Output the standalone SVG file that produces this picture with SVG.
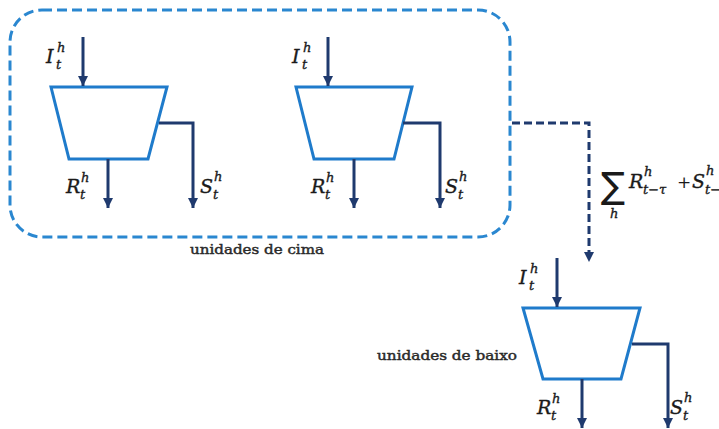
<svg xmlns="http://www.w3.org/2000/svg" width="719" height="429" viewBox="0 0 719 429">
<style>
.trap{fill:#fff;stroke:#1f7bcb;stroke-width:3;stroke-linejoin:miter}
.flow{fill:none;stroke:#1f3a6e;stroke-width:3}
.dash{fill:none;stroke:#1f3a6e;stroke-width:3;stroke-dasharray:8 4}
.group{fill:none;stroke:#2a87d0;stroke-width:3;stroke-dasharray:10 5}
.m{font-family:"DejaVu Serif","Liberation Serif",serif;font-style:italic;fill:#1a1a1a;stroke:#1a1a1a;stroke-width:0.35}
.big{font-size:19px}
.sm{font-size:13px}
.lbl{font-family:"DejaVu Serif","Liberation Serif",serif;font-size:13.5px;fill:#2a2a2a;stroke:#2a2a2a;stroke-width:0.45}
</style>
<defs>
<marker id="ah" markerUnits="userSpaceOnUse" markerWidth="11" markerHeight="11" refX="10" refY="5" orient="auto">
<path d="M0,0 L10,5 L0,10 z" fill="#1f3a6e"/>
</marker>
</defs>
<rect width="719" height="429" fill="#fff"/>
<g id="upper-units">
<rect class="group" x="10" y="10" width="500" height="227" rx="32" ry="32"/>
<text class="lbl" x="190" y="254" textLength="134" lengthAdjust="spacingAndGlyphs">unidades de cima</text>
</g>
<g id="unit1">
<polygon class="trap" points="51,87 167,87 148,159 69,159"/>
<text class="m big" x="46" y="63">I</text><text class="m sm" x="57" y="52">h</text><text class="m sm" x="56" y="69">t</text>
<text class="m big" x="66" y="193">R</text><text class="m sm" x="81" y="182">h</text><text class="m sm" x="80" y="199">t</text>
<text class="m big" x="200" y="193">S</text><text class="m sm" x="214" y="181">h</text><text class="m sm" x="213" y="199">t</text>
</g>
<g id="unit2">
<polygon class="trap" points="296,87 412,87 394,159 314,159"/>
<text class="m big" x="292" y="63">I</text><text class="m sm" x="303" y="52">h</text><text class="m sm" x="302" y="69">t</text>
<text class="m big" x="311" y="193">R</text><text class="m sm" x="326" y="182">h</text><text class="m sm" x="325" y="199">t</text>
<text class="m big" x="445" y="193">S</text><text class="m sm" x="459" y="181">h</text><text class="m sm" x="458" y="199">t</text>
</g>
<g id="unit3">
<polygon class="trap" points="523,308 640,308 621,379 543,379"/>
<text class="m big" x="519" y="284">I</text><text class="m sm" x="530" y="273">h</text><text class="m sm" x="529" y="290">t</text>
<text class="m big" x="537" y="414">R</text><text class="m sm" x="552" y="403">h</text><text class="m sm" x="551" y="420">t</text>
<text class="m big" x="670" y="414">S</text><text class="m sm" x="684" y="402">h</text><text class="m sm" x="683" y="420">t</text>
<text class="lbl" x="377" y="360" textLength="140" lengthAdjust="spacingAndGlyphs">unidades de baixo</text>
</g>
<g id="sum-label">
<text x="601" y="198" font-family="DejaVu Sans,sans-serif" font-size="36" fill="#1a1a1a">∑</text>
<text class="m sm" x="610" y="218">h</text>
<text class="m big" x="629" y="188">R</text><text class="m sm" x="644" y="176">h</text><text class="m sm" x="643" y="194">t−τ</text>
<text x="677" y="188" font-family="DejaVu Serif,serif" font-size="17" fill="#1a1a1a">+</text>
<text class="m big" x="692" y="188">S</text><text class="m sm" x="706" y="175">h</text><text class="m sm" x="705" y="194">t−τ</text>
</g>
<g id="connectors">
<line class="flow" x1="83" y1="37" x2="83" y2="86" marker-end="url(#ah)"/>
<line class="flow" x1="108" y1="159" x2="108" y2="208" marker-end="url(#ah)"/>
<polyline class="flow" points="159,123 193,123 193,208" marker-end="url(#ah)"/>
<line class="flow" x1="328" y1="37" x2="328" y2="86" marker-end="url(#ah)"/>
<line class="flow" x1="354" y1="159" x2="354" y2="208" marker-end="url(#ah)"/>
<polyline class="flow" points="403,123 440,123 440,208" marker-end="url(#ah)"/>
<line class="flow" x1="557" y1="258" x2="557" y2="307" marker-end="url(#ah)"/>
<line class="flow" x1="582" y1="379" x2="582" y2="428" marker-end="url(#ah)"/>
<polyline class="flow" points="632,344 668,344 668,428" marker-end="url(#ah)"/>
<polyline class="dash" points="512,123 589,123 589,262" marker-end="url(#ah)"/>
</g>
</svg>
